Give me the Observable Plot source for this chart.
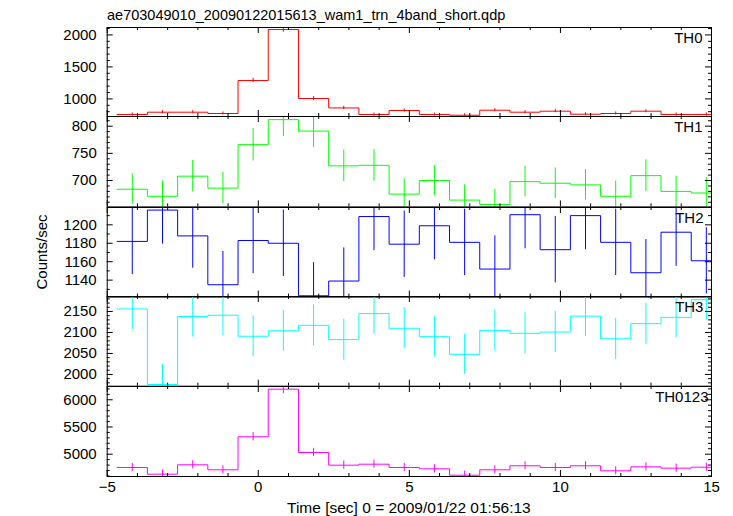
<!DOCTYPE html>
<html><head><meta charset="utf-8">
<script src="https://cdn.jsdelivr.net/npm/d3@7"></script>
<script src="https://cdn.jsdelivr.net/npm/@observablehq/plot@0.6"></script>
<style>
body{margin:0;background:#fff;}
#c{position:relative;width:733px;height:516px;overflow:hidden;font-family:"Liberation Sans",Arial,sans-serif;color:#000;}
#c svg{position:absolute;left:0;overflow:visible;}
.t{position:absolute;white-space:nowrap;line-height:1;}
</style></head><body><div id="c"></div>
<script>
// ---- data ----
const title = "ae703049010_20090122015613_wam1_trn_4band_short.qdp";
const xLabel = "Time [sec] 0 = 2009/01/22 01:56:13";
const yLabel = "Counts/sec";
const binCenters = [-4.17,-3.17,-2.17,-1.17,-0.17,0.83,1.83,2.83,3.83,4.83,5.83,6.83,7.83,8.83,9.83,10.83,11.83,12.83,13.83,14.83];
const binWidth = 1.0;
const bandNames = ["TH0","TH1","TH2","TH3","TH0123"];
const th0 = [756,792,792,772,1287,2084,1006,859,756,819,756,745,823,792,808,761,772,808,756,756];
const th0Err = [24,25,25,24,34,42,30,27,24,25,24,24,25,25,25,24,24,25,24,24];
const th1 = [684,671,708,686,766,812,791,727,728,675,700,664,656,698,695,692,671,709,680,677];
const th1Err = [28,28,29,29,30,31,30,29,29,28,28,28,28,28,28,28,28,29,28,28];
const th2 = [1182,1216,1188,1135,1183,1180,1123,1139,1209,1179,1199,1181,1152,1211,1173,1210,1181,1148,1192,1161];
const th2Err = [36,37,35,36,36,36,36,36,37,36,37,36,36,37,36,37,36,36,37,36];
const th3 = [2156,1976,2138,2141,2091,2104,2117,2083,2145,2110,2090,2048,2105,2098,2101,2139,2085,2121,2136,2178];
const th3Err = [49,48,49,49,49,49,49,49,49,49,49,48,49,49,49,49,49,49,49,49];
const th0123 = [4756,4633,4805,4713,5320,6195,5031,4798,4816,4756,4731,4614,4713,4787,4756,4787,4695,4768,4743,4761];
const th0123Err = [75,74,75,74,78,85,76,75,75,75,75,74,75,75,75,75,74,75,75,75];
const xDomain = [-5, 15];
const xMajor = [-5, 0, 5, 10, 15];
const xMinor = [-4,-3,-2,-1,1,2,3,4,6,7,8,9,11,12,13,14];
const yDomains = [[725,2116],[651.5,817.8],[1121.6,1218.8],[1972,2185.7],[4590,6244]];
const yMajorTicks = [[1000,1500,2000],[700,750,800],[1140,1160,1180,1200],[2000,2050,2100,2150],[5000,5500,6000]];
const yMinorStep = [100,10,10,10,100];
const colors = ["#ff0000","#00ff00","#0000ff","#00ffff","#ff00ff"];

// ---- layout ----
const W = 733, ML = 106.7, MR = 22;
const PW = W - ML - MR;
const tops = [27.3,116.3,206.7,296.3,386];
const bottoms = [116.3,206.7,296.3,386,476];
const labelDx = [-9,-9,-8,-8,-3];
const series = [th0,th1,th2,th3,th0123];
const errs = [th0Err,th1Err,th2Err,th3Err,th0123Err];
const font = "Liberation Sans, Arial, sans-serif";
const fmt = d => d < 0 ? "\u2212" + String(-d) : String(d);
const c = document.getElementById("c");

series.forEach((vals, i) => {
  const rows = vals.map((v, k) => ({t: binCenters[k], v, e: errs[i][k]}));
  const steps = [];
  rows.forEach(r => { steps.push({x: r.t - binWidth/2, y: r.v}); steps.push({x: r.t + binWidth/2, y: r.v}); });
  const [y0, y1] = yDomains[i];
  const minor = d3.range(Math.ceil(y0 / yMinorStep[i]) * yMinorStep[i], y1, yMinorStep[i]).filter(v => !yMajorTicks[i].includes(v));
  const pad = 1;
  const last = i === 4;
  const mb = last ? 30 : pad;
  const h = bottoms[i] - tops[i];
  const tk = {stroke: "#000", strokeWidth: 1};
  const marks = [
    Plot.line(steps, {x: "x", y: "y", stroke: colors[i], strokeWidth: 1, clip: true}),
    Plot.ruleX(rows, {x: "t", y1: d => d.v - d.e, y2: d => d.v + d.e, stroke: colors[i], strokeWidth: 1, clip: true}),
    // inward ticks
    Plot.tickX(xMajor, {x: d => d, insetTop: h - 6, ...tk}),
    Plot.tickX(xMajor, {x: d => d, insetBottom: h - 6, ...tk}),
    Plot.tickX(xMinor, {x: d => d, insetTop: h - 3, ...tk}),
    Plot.tickX(xMinor, {x: d => d, insetBottom: h - 3, ...tk}),
    Plot.tickY(yMajorTicks[i], {y: d => d, insetRight: PW - 6, ...tk}),
    Plot.tickY(yMajorTicks[i], {y: d => d, insetLeft: PW - 6, ...tk}),
    Plot.tickY(minor, {y: d => d, insetRight: PW - 3, ...tk}),
    Plot.tickY(minor, {y: d => d, insetLeft: PW - 3, ...tk}),
    Plot.frame({stroke: "#000", strokeWidth: 1}),
    Plot.axisY(yMajorTicks[i], {anchor: "left", tickSize: 0, tickPadding: 10.5, fontSize: 15, fill: "#000", tickFormat: fmt}),
    Plot.text([bandNames[i]], {frameAnchor: "top-right", text: d => d, textAnchor: "end", lineAnchor: "top", dx: labelDx[i], dy: 4.4, fontSize: 15, fill: "#000"})
  ];
  if (last) marks.push(Plot.axisX(xMajor, {anchor: "bottom", tickSize: 0, tickPadding: 4.5, fontSize: 15, fill: "#000", tickFormat: fmt}));
  const svg = Plot.plot({
    width: W, height: h + pad + mb,
    marginTop: pad, marginBottom: mb, marginLeft: ML, marginRight: MR,
    x: {domain: xDomain, label: null, axis: null},
    y: {domain: yDomains[i], label: null, axis: null},
    style: {fontFamily: font, fontSize: "15px", background: "transparent", overflow: "visible"},
    marks
  });
  svg.style.top = (tops[i] - pad) + "px";
  c.appendChild(svg);
});

function addText(txt, css) {
  const d = document.createElement("div");
  d.className = "t";
  d.textContent = txt;
  Object.assign(d.style, css);
  c.appendChild(d);
}
addText(title, {left: "107px", top: "7.5px", fontSize: "14.5px"});
addText(xLabel, {left: (ML + PW / 2) + "px", top: "500px", fontSize: "15.5px", transform: "translateX(-50%)"});
addText(yLabel, {left: "41px", top: "252px", fontSize: "15px", transform: "translate(-50%,-50%) rotate(-90deg)"});
</script></body></html>
